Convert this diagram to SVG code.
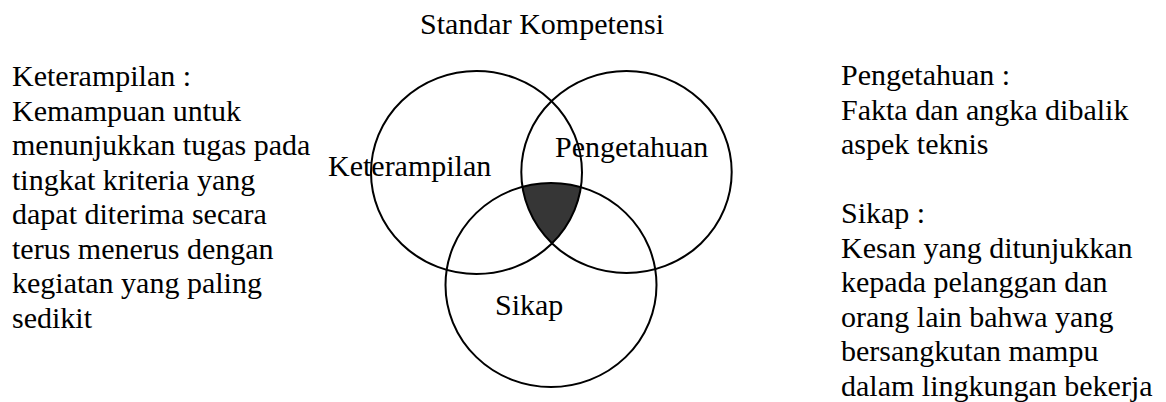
<svg xmlns="http://www.w3.org/2000/svg" width="1166" height="402" viewBox="0 0 1166 402">
<style>
text { font-family: "Liberation Serif", "Times New Roman", serif; font-size: 30px; fill: #000; }
.ring { fill: none; stroke: #000; stroke-width: 2; }
</style>
<defs>
<clipPath id="clipL"><ellipse cx="476.5" cy="172.5" rx="105.5" ry="101.5"/></clipPath>
<clipPath id="clipR"><ellipse cx="626.5" cy="172" rx="105.2" ry="101"/></clipPath>
</defs>
<rect width="1166" height="402" fill="#fff"/>
<g id="title"><text x="420" y="34">Standar Kompetensi</text></g>
<g id="core">
<g clip-path="url(#clipR)">
<ellipse cx="551" cy="285" rx="105.5" ry="102" fill="#363636" clip-path="url(#clipL)"/>
</g>
</g>
<g id="keterampilan">
<ellipse class="ring" cx="476.5" cy="172.5" rx="105.5" ry="101.5"/>
<text x="328" y="176">Keterampilan</text>
</g>
<g id="pengetahuan">
<ellipse class="ring" cx="626.5" cy="172" rx="105.2" ry="101"/>
<text x="555" y="157">Pengetahuan</text>
</g>
<g id="sikap">
<ellipse class="ring" cx="551" cy="285" rx="105.5" ry="102"/>
<text x="495" y="315">Sikap</text>
</g>
<g id="connectors"></g>
<g id="desc-left">
<text x="12" y="86">
<tspan x="12" y="86">Keterampilan :</tspan>
<tspan x="12" y="120.5">Kemampuan untuk</tspan>
<tspan x="12" y="155">menunjukkan tugas pada</tspan>
<tspan x="12" y="189.5">tingkat kriteria yang</tspan>
<tspan x="12" y="224">dapat diterima secara</tspan>
<tspan x="12" y="258.5">terus menerus dengan</tspan>
<tspan x="12" y="293">kegiatan yang paling</tspan>
<tspan x="12" y="327.5">sedikit</tspan>
</text>
</g>
<g id="desc-right">
<text x="841" y="85">
<tspan x="841" y="85">Pengetahuan :</tspan>
<tspan x="841" y="119.5">Fakta dan angka dibalik</tspan>
<tspan x="841" y="154">aspek teknis</tspan>
<tspan x="841" y="223">Sikap :</tspan>
<tspan x="841" y="257.5">Kesan yang ditunjukkan</tspan>
<tspan x="841" y="292">kepada pelanggan dan</tspan>
<tspan x="841" y="326.5">orang lain bahwa yang</tspan>
<tspan x="841" y="361">bersangkutan mampu</tspan>
<tspan x="841" y="395.5">dalam lingkungan bekerja</tspan>
</text>
</g>
</svg>
